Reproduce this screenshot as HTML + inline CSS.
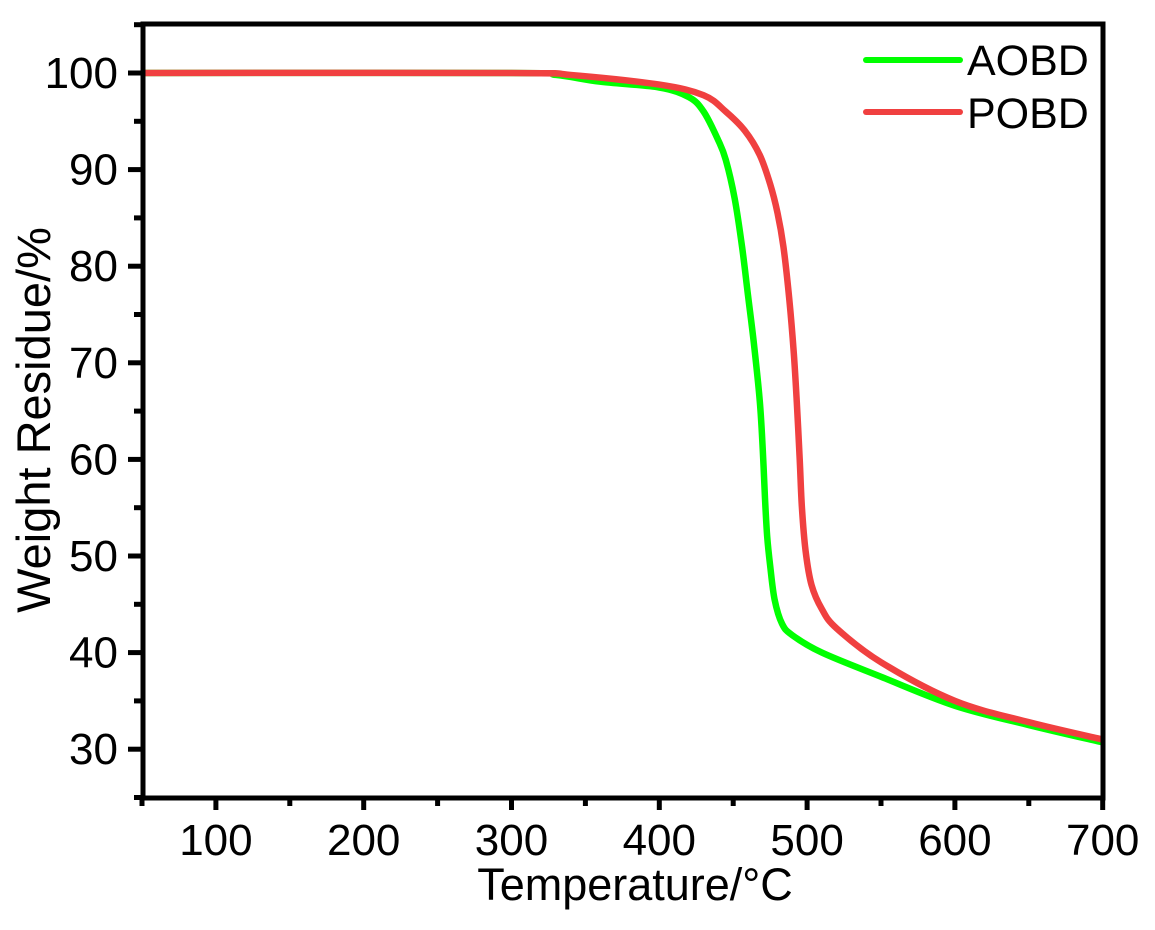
<!DOCTYPE html>
<html><head><meta charset="utf-8"><style>
html,body{margin:0;padding:0;background:#fff;}
svg{display:block;font-family:"Liberation Sans",Arial,sans-serif;}
</style></head><body>
<svg id="s" width="1155" height="930" viewBox="0 0 1155 930" xmlns="http://www.w3.org/2000/svg">
<g id="g"></g>
<text x="635" y="900" font-size="45" text-anchor="middle">Temperature/°C</text>
<text transform="translate(50,420) rotate(-90)" font-size="47" text-anchor="middle">Weight Residue/%</text>
<line x1="866" y1="60" x2="960" y2="60" stroke="#00ff00" stroke-width="6" stroke-linecap="round"/>
<line x1="866" y1="112" x2="960" y2="112" stroke="#f04040" stroke-width="6" stroke-linecap="round"/>
<text x="967" y="75" font-size="43">AOBD</text>
<text x="967" y="128" font-size="43">POBD</text>
</svg>
<script>
const X=t=>142+(t-50)*1.478, Y=w=>73+(100-w)*9.66;
const g=document.getElementById('g');let h='';
const A=[[50,100],[300,100],[330,99.8],[360,99.1],[400,98.5],[420,97.5],[430,96],[440,93],[445,91],[451,87],[456,82],[460,77],[464,72],[468,66],[470,61],[471.5,56],[473,52],[475,49],[478,45.5],[483,43],[490,41.8],[510,40],[550,37.5],[600,34.5],[650,32.5],[700,30.7]];
const P=[[50,100],[300,100],[340,99.8],[400,98.8],[430,97.7],[445,96],[458,94],[468,91.5],[475,88.5],[480,85.5],[484,82],[488,76.5],[491,71],[493,66],[495,60],[496.5,55],[499,50.5],[503,47],[510,44.5],[520,42.5],[550,39],[600,35],[650,32.8],[700,31]];
function path(d,c){
 const p=d.map(([t,w])=>[X(t),Y(w)]);
 let s='M'+p[0][0]+','+p[0][1];
 for(let i=0;i<p.length-1;i++){const p0=p[i-1]||p[i],p1=p[i],p2=p[i+1],p3=p[i+2]||p2;
  s+=` C${p1[0]+(p2[0]-p0[0])/6},${p1[1]+(p2[1]-p0[1])/6} ${p2[0]-(p3[0]-p1[0])/6},${p2[1]-(p3[1]-p1[1])/6} ${p2[0]},${p2[1]}`;}
 return `<path d="${s}" fill="none" stroke="${c}" stroke-width="6.5" stroke-linejoin="round"/>`;}
h+=path(A,'#00ff00')+path(P,'#f04040');
h+='<rect x="143" y="24" width="960" height="774" fill="none" stroke="#000" stroke-width="5"/>';
for(let t=50;t<=700;t+=50){const x=X(t),maj=t%100==0;h+=`<line x1="${x}" y1="798" x2="${x}" y2="${maj?810:806}" stroke="#000" stroke-width="5"/>`;
 if(maj)h+=`<text x="${x}" y="855" font-size="44" text-anchor="middle">${t}</text>`;}
for(let w=25;w<=105;w+=5){const y=Y(w),maj=w%10==0;h+=`<line x1="143" y1="${y}" x2="${maj?128:134}" y2="${y}" stroke="#000" stroke-width="5"/>`;
 if(maj&&w>=30&&w<=100)h+=`<text x="118" y="${y+15}" font-size="44" text-anchor="end">${w}</text>`;}
g.innerHTML=h;
</script>
</body></html>
